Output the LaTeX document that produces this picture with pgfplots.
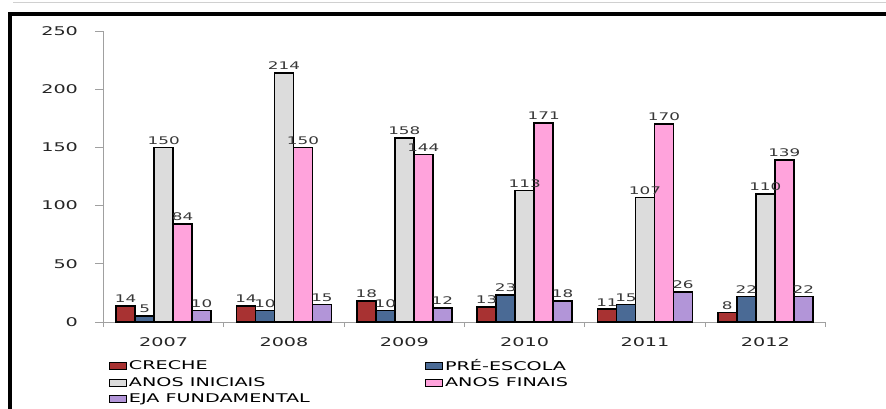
\documentclass[border=0pt]{standalone}
\usepackage{fontspec}
\setmainfont[FakeStretch=1.6]{DejaVu Sans}
\usepackage{pgfplots}
\pgfplotsset{compat=1.18}
\definecolor{creche}{RGB}{168,50,50}
\definecolor{pre}{RGB}{74,106,149}
\definecolor{ini}{RGB}{220,220,220}
\definecolor{fin}{RGB}{255,163,220}
\definecolor{eja}{RGB}{178,149,216}
\definecolor{axgray}{RGB}{160,160,160}
\definecolor{lbl}{RGB}{55,55,55}
\begin{document}
\begin{tikzpicture}
\useasboundingbox (0,0) rectangle (886pt,408pt);
\begin{scope}
\clip (0,0) rectangle (886pt,408pt);
\draw[line width=4.5pt] (10pt,-20pt) -- (10pt,394pt) -- (900pt,394pt);
\draw[axgray!50, line width=0.8pt] (13pt,406pt) -- (900pt,406pt);
\end{scope}
\begin{axis}[
  at={(103.5pt,86pt)}, anchor=south west,
  scale only axis, width=722pt, height=291pt,
  ybar=0pt, bar width=19pt,
  xmin=-0.5, xmax=5.5, ymin=0, ymax=250,
  axis x line*=bottom, axis y line*=left,
  axis line style={axgray, line width=0.8pt},
  xtick={0,...,5}, xticklabels={2007,2008,2009,2010,2011,2012},
  major x tick style={draw=none},
  minor xtick={-0.5,0.5,...,5.5},
  minor tick length=5pt,
  minor x tick style={axgray, line width=0.8pt},
  ytick={0,50,...,250},
  tick align=outside,
  major tick length=8pt,
  y tick style={axgray, line width=0.8pt},
  /pgf/number format/assume math mode=true,
  tick label style={font=\fontsize{12}{14}\selectfont, text=black!85},
  yticklabel style={xshift=-14pt},
  xticklabel style={yshift=-4pt},
  nodes near coords,
  every node near coord/.append style={font=\fontsize{10.5}{12}\selectfont, text=lbl, yshift=-1pt},
  legend style={at={(rel axis cs:0.007,-0.122)}, anchor=north west, draw=none, fill=none,
    font=\fontsize{12}{14}\selectfont, row sep=1.5pt, inner sep=0pt,
    /tikz/every even column/.append style={column sep=113pt}},
  legend columns=2,
  legend cell align=left,
  legend image code/.code={\draw[#1, line width=1.2pt] (0pt,-3.5pt) rectangle (17pt,3.5pt);},
  clip=false,
]
\addplot[draw=black, line width=1.6pt, fill=creche] coordinates {(0,14) (1,14) (2,18) (3,13) (4,11) (5,8)};
\addplot[draw=black, line width=1.6pt, fill=pre] coordinates {(0,5) (1,10) (2,10) (3,23) (4,15) (5,22)};
\addplot[draw=black, line width=1.6pt, fill=ini] coordinates {(0,150) (1,214) (2,158) (3,113) (4,107) (5,110)};
\addplot[draw=black, line width=1.6pt, fill=fin] coordinates {(0,84) (1,150) (2,144) (3,171) (4,170) (5,139)};
\addplot[draw=black, line width=1.6pt, fill=eja] coordinates {(0,10) (1,15) (2,12) (3,18) (4,26) (5,22)};
\legend{CRECHE, PRÉ-ESCOLA, ANOS INICIAIS, ANOS FINAIS, EJA FUNDAMENTAL}
\end{axis}
\end{tikzpicture}
\end{document}
